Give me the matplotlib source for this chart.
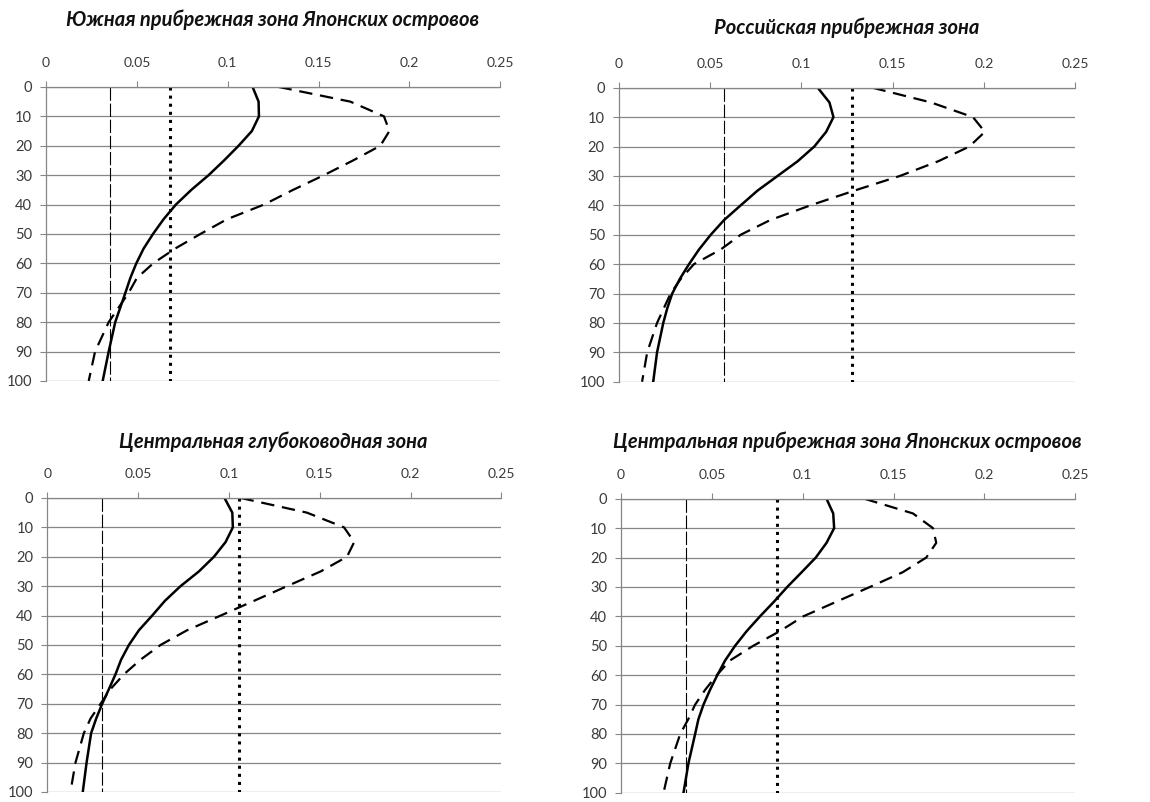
import numpy as np
import matplotlib
matplotlib.use('Agg')
import matplotlib.pyplot as plt

plt.rcParams['font.family'] = ['Lato', 'DejaVu Sans']

depth = [0, 5, 10, 15, 20, 25, 30, 35, 40, 45, 50, 55, 60, 65, 70, 75, 80, 90, 100]

titles = ['Южная прибрежная зона Японских островов',
          'Российская прибрежная зона',
          'Центральная глубоководная зона',
          'Центральная прибрежная зона Японских островов']

solid1 = [0.1137, 0.117, 0.1172, 0.1133, 0.106, 0.098, 0.0895, 0.080, 0.0715, 0.0647,
          0.0589, 0.0537, 0.0497, 0.0464, 0.0437, 0.0409, 0.0381, 0.0345, 0.0312]
dash1 = [0.128, 0.1675, 0.186, 0.189, 0.184, 0.169, 0.153, 0.136, 0.120, 0.0996,
         0.085, 0.071, 0.059, 0.050, 0.0455, 0.040, 0.0345, 0.027, 0.0235]

solid2 = [0.109, 0.1154, 0.1176, 0.1136, 0.1071, 0.098, 0.087, 0.076, 0.0668, 0.0577,
          0.0504, 0.044, 0.0385, 0.0335, 0.0293, 0.0266, 0.0244, 0.021, 0.0189]
dash2 = [0.139, 0.171, 0.194, 0.2005, 0.192, 0.175, 0.154, 0.129, 0.105, 0.083,
         0.0668, 0.0559, 0.0412, 0.034, 0.0284, 0.0247, 0.021, 0.0156, 0.0128]

solid3 = [0.0976, 0.1019, 0.1022, 0.0982, 0.0918, 0.0835, 0.0734, 0.0648, 0.0578, 0.0505,
          0.045, 0.0407, 0.0376, 0.034, 0.0303, 0.027, 0.0242, 0.0217, 0.0196]
dash3 = [0.1065, 0.143, 0.1634, 0.169, 0.165, 0.1505, 0.132, 0.1138, 0.0955, 0.077,
         0.0624, 0.0514, 0.0422, 0.0349, 0.0294, 0.0239, 0.0202, 0.0156, 0.0128]

solid4 = [0.1131, 0.1168, 0.1173, 0.1131, 0.1072, 0.0994, 0.0915, 0.0842, 0.0765, 0.0692,
          0.0628, 0.0573, 0.053, 0.049, 0.0454, 0.0426, 0.0408, 0.0371, 0.0344]
dash4 = [0.134, 0.1607, 0.1717, 0.1735, 0.168, 0.155, 0.137, 0.1186, 0.1003, 0.0875,
         0.0728, 0.060, 0.0527, 0.0463, 0.0408, 0.037, 0.0326, 0.0271, 0.0234]

# constant levels (thin dashed and dotted verticals)
thin_level = [0.0354, 0.0577, 0.0303, 0.0359]
dot_level = [0.068, 0.128, 0.1055, 0.0857]

xticks = [0, 0.05, 0.1, 0.15, 0.2, 0.25]
xlabels = ['0', '0.05', '0.1', '0.15', '0.2', '0.25']
yticks = [0, 10, 20, 30, 40, 50, 60, 70, 80, 90, 100]

solids = [solid1, solid2, solid3, solid4]
dashes = [dash1, dash2, dash3, dash4]

fig = plt.figure(figsize=(11.5, 8.02), dpi=100)
boxes = [[0.040, 0.525, 0.395, 0.3666],
         [0.538, 0.524, 0.397, 0.3666],
         [0.041, 0.0125, 0.395, 0.3666],
         [0.540, 0.0115, 0.395, 0.3666]]
title_pos = [(0.237, 0.975), (0.736, 0.965), (0.238, 0.4496), (0.737, 0.4496)]

grey = '#868686'
for i in range(4):
    ax = fig.add_axes(boxes[i])
    ax.plot(solids[i], depth, color='black', lw=1.8)
    ax.plot(dashes[i], depth, color='black', lw=1.6, linestyle=(0, (6, 3.5)))
    ax.plot([thin_level[i], thin_level[i]], [0, 100], color='black', lw=0.8,
            linestyle=(0, (12, 2.5)))
    ax.plot([dot_level[i], dot_level[i]], [0, 100], color='black', lw=2.2, linestyle=':')

    ax.set_xlim(0, 0.25)
    ax.set_ylim(100, 0)
    ax.set_xticks(xticks)
    ax.set_xticklabels(xlabels)
    ax.set_yticks(yticks)
    ax.xaxis.tick_top()
    ax.tick_params(axis='both', colors=grey, labelcolor='#3a3a3a',
                   length=4, width=0.8, direction='out')
    ax.tick_params(axis='x', pad=9, labelsize=10)
    ax.tick_params(axis='y', pad=6, labelsize=10.5)
    ax.yaxis.grid(True, color=grey, lw=0.9)
    ax.set_axisbelow(True)
    for s in ['right', 'bottom']:
        ax.spines[s].set_visible(False)
    for s in ['left', 'top']:
        ax.spines[s].set_color(grey)
        ax.spines[s].set_linewidth(0.9)

    fig.text(title_pos[i][0], title_pos[i][1], titles[i], ha='center', va='center',
             fontsize=14.5, fontweight='bold', fontstyle='italic', color='#111111')

plt.savefig('out.png', dpi=100)
